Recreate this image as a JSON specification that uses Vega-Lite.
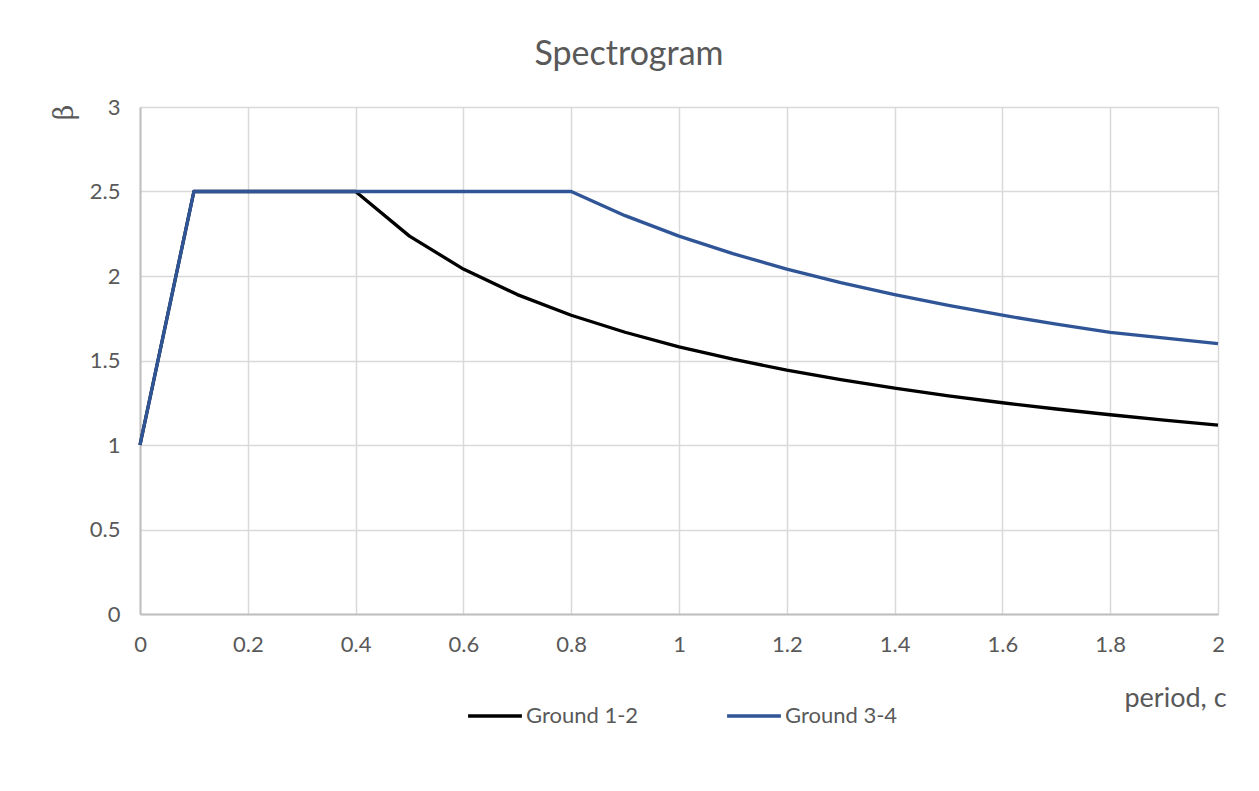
{
  "$schema": "https://vega.github.io/schema/vega-lite/v6.json",
  "autosize": "none",
  "width": 1078,
  "height": 507,
  "padding": {"left": 140, "top": 107, "right": 41, "bottom": 177},
  "background": "white",
  "title": {
    "text": "Spectrogram",
    "font": "Lato",
    "fontSize": 34,
    "fontWeight": "normal",
    "color": "#595959",
    "anchor": "middle",
    "dx": -50,
    "baseline": "alphabetic",
    "offset": -3
  },
  "data": {
    "values": [
      {"T": 0, "beta": 1, "series": "Ground 1-2"},
      {"T": 0.1, "beta": 2.5, "series": "Ground 1-2"},
      {"T": 0.2, "beta": 2.5, "series": "Ground 1-2"},
      {"T": 0.3, "beta": 2.5, "series": "Ground 1-2"},
      {"T": 0.4, "beta": 2.5, "series": "Ground 1-2"},
      {"T": 0.5, "beta": 2.236, "series": "Ground 1-2"},
      {"T": 0.6, "beta": 2.041, "series": "Ground 1-2"},
      {"T": 0.7, "beta": 1.890, "series": "Ground 1-2"},
      {"T": 0.8, "beta": 1.768, "series": "Ground 1-2"},
      {"T": 0.9, "beta": 1.667, "series": "Ground 1-2"},
      {"T": 1.0, "beta": 1.581, "series": "Ground 1-2"},
      {"T": 1.1, "beta": 1.508, "series": "Ground 1-2"},
      {"T": 1.2, "beta": 1.443, "series": "Ground 1-2"},
      {"T": 1.3, "beta": 1.387, "series": "Ground 1-2"},
      {"T": 1.4, "beta": 1.336, "series": "Ground 1-2"},
      {"T": 1.5, "beta": 1.291, "series": "Ground 1-2"},
      {"T": 1.6, "beta": 1.250, "series": "Ground 1-2"},
      {"T": 1.7, "beta": 1.213, "series": "Ground 1-2"},
      {"T": 1.8, "beta": 1.179, "series": "Ground 1-2"},
      {"T": 1.9, "beta": 1.147, "series": "Ground 1-2"},
      {"T": 2.0, "beta": 1.118, "series": "Ground 1-2"},
      {"T": 0, "beta": 1, "series": "Ground 3-4"},
      {"T": 0.1, "beta": 2.5, "series": "Ground 3-4"},
      {"T": 0.2, "beta": 2.5, "series": "Ground 3-4"},
      {"T": 0.3, "beta": 2.5, "series": "Ground 3-4"},
      {"T": 0.4, "beta": 2.5, "series": "Ground 3-4"},
      {"T": 0.5, "beta": 2.5, "series": "Ground 3-4"},
      {"T": 0.6, "beta": 2.5, "series": "Ground 3-4"},
      {"T": 0.7, "beta": 2.5, "series": "Ground 3-4"},
      {"T": 0.8, "beta": 2.5, "series": "Ground 3-4"},
      {"T": 0.9, "beta": 2.357, "series": "Ground 3-4"},
      {"T": 1.0, "beta": 2.236, "series": "Ground 3-4"},
      {"T": 1.1, "beta": 2.132, "series": "Ground 3-4"},
      {"T": 1.2, "beta": 2.041, "series": "Ground 3-4"},
      {"T": 1.3, "beta": 1.961, "series": "Ground 3-4"},
      {"T": 1.4, "beta": 1.890, "series": "Ground 3-4"},
      {"T": 1.5, "beta": 1.826, "series": "Ground 3-4"},
      {"T": 1.6, "beta": 1.768, "series": "Ground 3-4"},
      {"T": 1.7, "beta": 1.715, "series": "Ground 3-4"},
      {"T": 1.8, "beta": 1.667, "series": "Ground 3-4"},
      {"T": 2.0, "beta": 1.600, "series": "Ground 3-4"}
    ]
  },
  "mark": {"type": "line", "strokeWidth": 3.3, "strokeJoin": "round"},
  "encoding": {
    "x": {
      "field": "T",
      "type": "quantitative",
      "scale": {"domain": [0, 2], "nice": false, "zero": false},
      "axis": {
        "values": [0, 0.2, 0.4, 0.6, 0.8, 1, 1.2, 1.4, 1.6, 1.8, 2],
        "format": "~g",
        "labelFlush": false,
        "title": "period, c",
        "titleX": 1035,
        "titleY": 84,
        "titleAlign": "center",
        "titleBaseline": "middle",
        "titleFontSize": 27
      }
    },
    "y": {
      "field": "beta",
      "type": "quantitative",
      "scale": {"domain": [0, 3], "nice": false},
      "axis": {
        "values": [0, 0.5, 1, 1.5, 2, 2.5, 3],
        "format": "~g",
        "title": "β",
        "titleFont": "DejaVu Serif",
        "titleFontSize": 27,
        "titleAngle": -90,
        "titleX": -76,
        "titleY": 5,
        "titleAlign": "center",
        "titleBaseline": "middle"
      }
    },
    "color": {
      "field": "series",
      "type": "nominal",
      "scale": {"domain": ["Ground 1-2", "Ground 3-4"], "range": ["#000000", "#2F5597"]},
      "legend": {
        "title": null,
        "orient": "none",
        "direction": "horizontal",
        "legendX": 326,
        "legendY": 580,
        "symbolType": "stroke",
        "symbolSize": 2900,
        "symbolStrokeWidth": 3.3,
        "labelOffset": 2,
        "columnPadding": 81,
        "labelFont": "Lato",
        "labelFontSize": 22,
        "labelColor": "#595959"
      }
    }
  },
  "config": {
    "view": {"stroke": null},
    "axis": {
      "labelFont": "Lato",
      "labelFontSize": 22,
      "labelColor": "#595959",
      "titleFont": "Lato",
      "titleFontWeight": "normal",
      "titleColor": "#595959",
      "gridColor": "#d9d9d9",
      "gridWidth": 1.5,
      "domainColor": "#bfbfbf",
      "domainWidth": 2,
      "ticks": false,
      "labelPadding": 20
    },
    "axisY": {"domain": true}
  }
}
